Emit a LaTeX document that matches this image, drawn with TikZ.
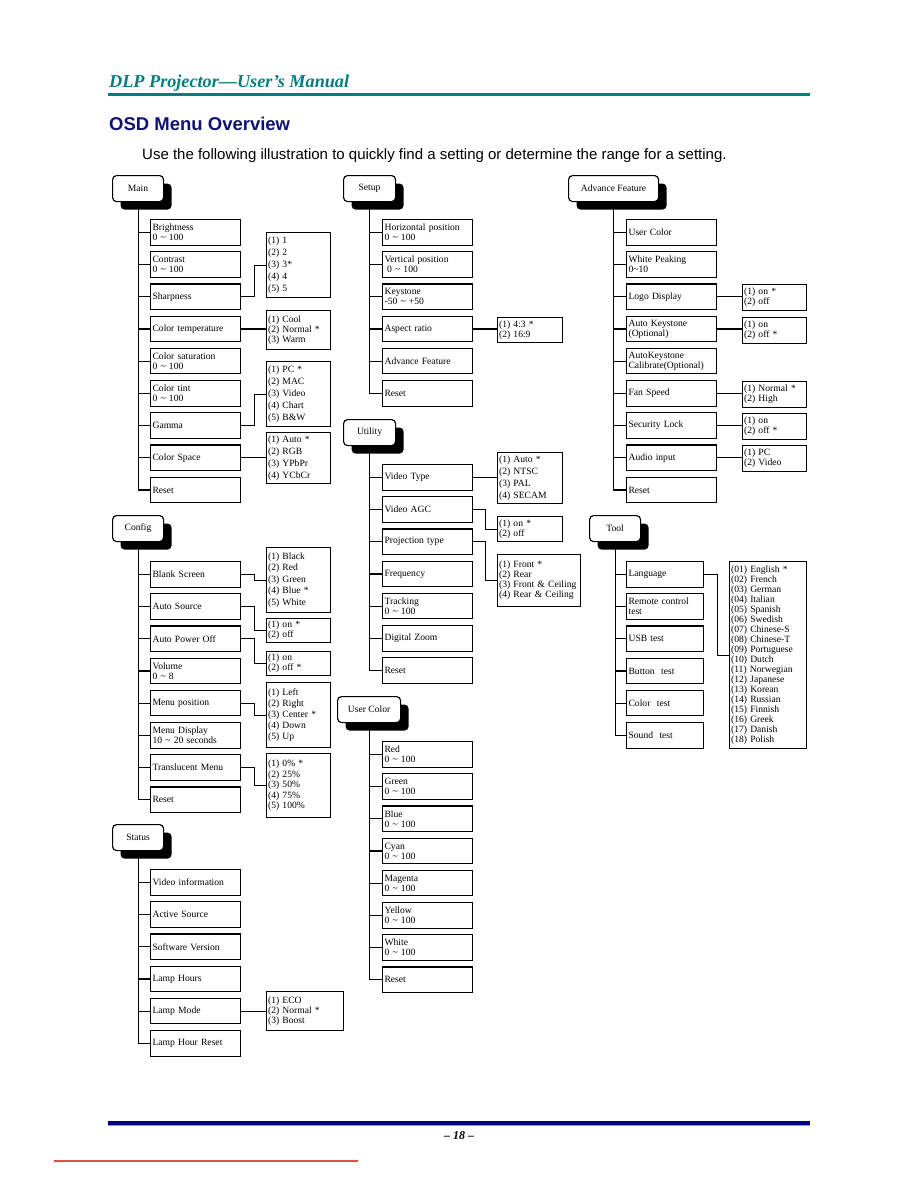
\documentclass[tikz,border=0pt]{standalone}
\usepackage{fontspec}
\setmainfont{Liberation Serif}
\newfontfamily\sansf{Liberation Sans}
\usetikzlibrary{shadows}
\definecolor{teal1}{RGB}{0,128,128}
\definecolor{navy1}{RGB}{0,0,128}
\definecolor{osdblue}{RGB}{16,16,120}
\definecolor{redline}{RGB}{225,80,80}
\newcommand\tld{\textasciitilde}
\begin{document}
\begin{tikzpicture}[x=1pt,y=-1pt,
 conn/.style={line width=1.15pt},
 item/.style={draw,line width=1.15pt,anchor=north west,minimum width=90pt,minimum height=25.5pt,text width=86pt,inner xsep=2pt,inner ysep=0pt,align=left,font=\fontsize{9.6}{10}\selectfont},
 titem/.style={item,minimum width=77pt,text width=73pt},
 opt/.style={draw,line width=1.15pt,anchor=north west,inner xsep=1.5pt,inner ysep=0pt,align=left,font=\fontsize{9.6}{10}\selectfont},
 head/.style={draw,line width=1.15pt,rounded corners=4pt,fill=white,anchor=north west,minimum height=26pt,inner sep=0pt,font=\fontsize{9.6}{10}\selectfont,drop shadow={shadow xshift=8pt,shadow yshift=-8pt,fill=black,opacity=1}}]
\useasboundingbox (0,0) rectangle (918,1188);
% ---------- page header ----------
\node[anchor=base west,inner sep=0pt,text=teal1,font=\fontsize{18.2}{18}\selectfont\bfseries\itshape] (ptitle) at (109,88) {DLP Projector---User's Manual};
\draw[teal1,line width=2.6pt] (108,94.5) -- (810,94.5);
\node[anchor=base west,inner sep=0pt,text=osdblue,font=\sansf\fontsize{18.5}{18.5}\selectfont\bfseries] (osd) at (109,131) {OSD Menu Overview};
\node[anchor=base west,inner sep=0pt,font=\sansf\fontsize{15}{15}\selectfont] (intro) at (142,159) {Use the following illustration to quickly find a setting or determine the range for a setting.};
% ---------- Main ----------
\node[head,minimum width=51pt] (main) at (112,175) {Main};
\foreach \txt [count=\i] in {{Brightness\\0 \tld{} 100},{Contrast\\0 \tld{} 100},Sharpness,Color temperature,{Color saturation\\0 \tld{} 100},{Color tint\\0 \tld{} 100},Gamma,Color Space,Reset}
  \node[item] (m\i) at (150,{219+(\i-1)*32.2}) {\txt};
\draw[conn] (main.south) |- (m9.west);
\foreach \i in {1,...,8} \draw[conn] (m\i.west) -- (m\i.west -| main.south);
\node[opt,minimum width=64pt,text width=61pt,minimum height=65pt,font=\fontsize{9.6}{12}\selectfont] (ma) at (266,232) {(1) 1\\(2) 2\\(3) 3*\\(4) 4\\(5) 5};
\node[opt,minimum width=64pt,text width=61pt,minimum height=39pt] (mb) at (266,310) {(1) Cool\\(2) Normal *\\(3) Warm};
\node[opt,minimum width=64pt,text width=61pt,minimum height=65pt,font=\fontsize{9.6}{12}\selectfont] (mc) at (266,361) {(1) PC *\\(2) MAC\\(3) Video\\(4) Chart\\(5) B\&W};
\node[opt,minimum width=64pt,text width=61pt,minimum height=51pt,font=\fontsize{9.6}{12}\selectfont] (md) at (266,432) {(1) Auto *\\(2) RGB\\(3) YPbPr\\(4) YCbCr};
\draw[conn] (m3.east) -- ++(13,0) |- (ma.west);
\draw[conn] (m4.east) -- (m4.east -| mb.west);
\draw[conn] (m7.east) -- ++(13,0) |- (mc.west);
\draw[conn] (m8.east) -- (m8.east -| md.west);
% ---------- Config ----------
\node[head,minimum width=51pt] (config) at (112,515) {Config};
\foreach \txt [count=\i] in {Blank Screen,Auto Source,Auto Power Off,{Volume\\0 \tld{} 8},Menu position,{Menu Display\\10 \tld{} 20 seconds},Translucent Menu,Reset}
  \node[item] (c\i) at (150,{561+(\i-1)*32.2}) {\txt};
\draw[conn] (config.south) |- (c8.west);
\foreach \i in {1,...,7} \draw[conn] (c\i.west) -- (c\i.west -| config.south);
\node[opt,minimum width=64pt,text width=61pt,minimum height=65pt,font=\fontsize{9.6}{11.5}\selectfont] (ca) at (266,547) {(1) Black\\(2) Red\\(3) Green\\(4) Blue *\\(5) White};
\node[opt,minimum width=64pt,text width=61pt,minimum height=24pt] (cb) at (266,618) {(1) on *\\(2) off};
\node[opt,minimum width=64pt,text width=61pt,minimum height=24pt] (cc) at (266,651) {(1) on\\(2) off *};
\node[opt,minimum width=64pt,text width=61pt,minimum height=65pt,font=\fontsize{9.6}{11}\selectfont] (cd) at (266,682) {(1) Left\\(2) Right\\(3) Center *\\(4) Down\\(5) Up};
\node[opt,minimum width=64pt,text width=61pt,minimum height=64pt,font=\fontsize{9.6}{10.5}\selectfont] (ce) at (266,753) {(1) 0\% *\\(2) 25\%\\(3) 50\%\\(4) 75\%\\(5) 100\%};
\draw[conn] (c1.east) -- ++(13,0) |- (ca.west);
\draw[conn] (c2.east) -- ++(13,0) |- (cb.west);
\draw[conn] (c3.east) -- ++(13,0) |- (cc.west);
\draw[conn] (c5.east) -- ++(13,0) |- (cd.west);
\draw[conn] (c7.east) -- ++(13,0) |- (ce.west);
% ---------- Status ----------
\node[head,minimum width=51pt] (status) at (112,824) {Status};
\foreach \txt [count=\i] in {Video information,Active Source,Software Version,Lamp Hours,Lamp Mode,Lamp Hour Reset}
  \node[item] (s\i) at (150,{869+(\i-1)*32.2}) {\txt};
\draw[conn] (status.south) |- (s6.west);
\foreach \i in {1,...,5} \draw[conn] (s\i.west) -- (s\i.west -| status.south);
\node[opt,minimum width=77pt,text width=74pt,minimum height=39pt] (sa) at (266,991) {(1) ECO\\(2) Normal *\\(3) Boost};
\draw[conn] (s5.east) -- (s5.east -| sa.west);
% ---------- Setup ----------
\node[head,minimum width=52pt] (setup) at (343,175) {Setup};
\foreach \txt [count=\i] in {{Horizontal position\\0 \tld{} 100},{Vertical position\\\hspace*{2.5pt}0 \tld{} 100},{Keystone\\-50 \tld{} +50},Aspect ratio,Advance Feature,Reset}
  \node[item] (p\i) at (382,{219+(\i-1)*32.2}) {\txt};
\draw[conn] (setup.south) |- (p6.west);
\foreach \i in {1,...,5} \draw[conn] (p\i.west) -- (p\i.west -| setup.south);
\node[opt,minimum width=65pt,text width=62pt,minimum height=25pt] (pa) at (497,317) {(1) 4:3 *\\(2) 16:9};
\draw[conn] (p4.east) -- (p4.east -| pa.west);
% ---------- Utility ----------
\node[head,minimum width=52pt] (utility) at (343,419) {Utility};
\foreach \txt [count=\i] in {Video Type,Video AGC,Projection type,Frequency,{Tracking\\0 \tld{} 100},Digital Zoom,Reset}
  \node[item] (u\i) at (382,{464+(\i-1)*32.2}) {\txt};
\draw[conn] (utility.south) |- (u7.west);
\foreach \i in {1,...,6} \draw[conn] (u\i.west) -- (u\i.west -| utility.south);
\node[opt,minimum width=65pt,text width=62pt,minimum height=51pt,font=\fontsize{9.6}{12}\selectfont] (ua) at (497,452) {(1) Auto *\\(2) NTSC\\(3) PAL\\(4) SECAM};
\node[opt,minimum width=65pt,text width=62pt,minimum height=25pt] (ub) at (497,516) {(1) on *\\(2) off};
\node[opt,minimum width=83pt,text width=80pt,minimum height=52pt] (uc) at (497,554) {(1) Front *\\(2) Rear\\(3) Front \& Ceiling\\(4) Rear \& Ceiling};
\draw[conn] (u1.east) -- (u1.east -| ua.west);
\draw[conn] (u2.east) -- ++(12,0) |- (ub.west);
\draw[conn] (u3.east) -- ++(12,0) |- (uc.west);
% ---------- User Color ----------
\node[head,minimum width=63pt] (ucolor) at (337,696) {User Color};
\foreach \txt [count=\i] in {{Red\\0 \tld{} 100},{Green\\0 \tld{} 100},{Blue\\0 \tld{} 100},{Cyan\\0 \tld{} 100},{Magenta\\0 \tld{} 100},{Yellow\\0 \tld{} 100},{White\\0 \tld{} 100},Reset}
  \node[item] (k\i) at (382,{741+(\i-1)*32.2}) {\txt};
\draw[conn] (ucolor.south) |- (k8.west);
\foreach \i in {1,...,7} \draw[conn] (k\i.west) -- (k\i.west -| ucolor.south);
% ---------- Advance Feature ----------
\node[head,minimum width=90pt] (adv) at (568,175) {Advance Feature};
\foreach \txt [count=\i] in {User Color,{White Peaking\\0\tld10},Logo Display,{Auto Keystone\\(Optional)},{AutoKeystone\\Calibrate(Optional)},Fan Speed,Security Lock,Audio input,Reset}
  \node[item] (a\i) at (626,{219+(\i-1)*32.2}) {\txt};
\draw[conn] (adv.south) |- (a9.west);
\foreach \i in {1,...,8} \draw[conn] (a\i.west) -- (a\i.west -| adv.south);
\node[opt,minimum width=64pt,text width=61pt,minimum height=26pt] (aa) at (742,284) {(1) on *\\(2) off};
\node[opt,minimum width=64pt,text width=61pt,minimum height=26pt] (ab) at (742,317) {(1) on\\(2) off *};
\node[opt,minimum width=64pt,text width=61pt,minimum height=26pt] (ac) at (742,381) {(1) Normal *\\(2) High};
\node[opt,minimum width=64pt,text width=61pt,minimum height=26pt] (ad) at (742,413) {(1) on\\(2) off *};
\node[opt,minimum width=64pt,text width=61pt,minimum height=26pt] (ae) at (742,445) {(1) PC\\(2) Video};
\draw[conn] (a3.east) -- (a3.east -| aa.west);
\draw[conn] (a4.east) -- (a4.east -| ab.west);
\draw[conn] (a6.east) -- (a6.east -| ac.west);
\draw[conn] (a7.east) -- (a7.east -| ad.west);
\draw[conn] (a8.east) -- (a8.east -| ae.west);
% ---------- Tool ----------
\node[head,minimum width=51pt] (tool) at (589,515) {Tool};
\foreach \txt [count=\i] in {Language,{Remote control\\test},USB test,Button\ \ test,Color\ \ test,Sound\ \ test}
  \node[titem] (t\i) at (626,{561+(\i-1)*32.2}) {\txt};
\draw[conn] (tool.south) |- (t6.west);
\foreach \i in {1,...,5} \draw[conn] (t\i.west) -- (t\i.west -| tool.south);
\node[opt,minimum width=77pt,text width=74pt,minimum height=187pt] (ta) at (729,561) {(01) English *\\(02) French\\(03) German\\(04) Italian\\(05) Spanish\\(06) Swedish\\(07) Chinese-S\\(08) Chinese-T\\(09) Portuguese\\(10) Dutch\\(11) Norwegian\\(12) Japanese\\(13) Korean\\(14) Russian\\(15) Finnish\\(16) Greek\\(17) Danish\\(18) Polish};
\draw[conn] (t1.east) -- ++(13,0) |- (ta.west);
% ---------- footer ----------
\draw[navy1,line width=4pt] (108,1122.5) -- (810,1122.5);
\draw[blue!45,line width=0.6pt] (108,1125) -- (810,1125);
\node[anchor=base,inner sep=0pt,font=\fontsize{12}{12}\selectfont\bfseries\itshape] (pnum) at (459,1139) {-- 18 --};
\draw[redline,line width=1.2pt] (54,1161) -- (358,1161);
\end{tikzpicture}
\end{document}
